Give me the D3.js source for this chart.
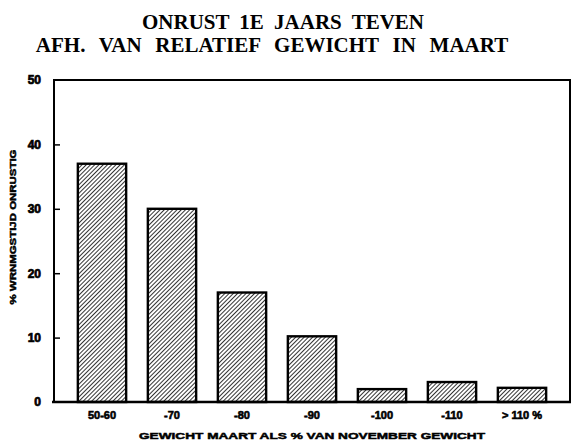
<!DOCTYPE html>
<html><head><meta charset="utf-8">
<script src="https://cdn.jsdelivr.net/npm/d3@7"></script>
<style>body{margin:0;background:#fff}svg{display:block}</style>
</head><body>
<script>
const categories = ["50-60", "-70", "-80", "-90", "-100", "-110", "> 110 %"];
const values = [37, 30, 17, 10.2, 2.0, 3.1, 2.2];
const yTicks = [0, 10, 20, 30, 40, 50];
const titleLines = ["ONRUST 1E JAARS TEVEN", "AFH. VAN RELATIEF GEWICHT IN MAART"];
const xTitle = "GEWICHT MAART ALS % VAN NOVEMBER GEWICHT";
const yTitle = "% WRNMGSTIJD ONRUSTIG";

(function () {
const W = 583, H = 441;
const svg = d3.select("body").append("svg").attr("width", W).attr("height", H);
const defs = svg.append("defs");
const pat = defs.append("pattern").attr("id", "hatch").attr("patternUnits", "userSpaceOnUse")
  .attr("width", 3).attr("height", 3).attr("patternTransform", "rotate(45)");
pat.append("rect").attr("width", 3).attr("height", 3).attr("fill", "#fff");
pat.append("line").attr("x1", 0).attr("y1", 0).attr("x2", 0).attr("y2", 3)
  .attr("stroke", "#000").attr("stroke-width", 1.6);

const mL = 54, mR = 570, mT = 80, mB = 402;
const x = d3.scaleBand().domain(categories).range([67, 557]).paddingInner(0.31).paddingOuter(0.155);
const y = d3.scaleLinear().domain([0, 50]).range([mB, mT]);
const sans = "Liberation Sans, Arial, sans-serif";

// bars
svg.append("g").selectAll("rect").data(values).join("rect")
  .attr("x", (d, i) => x(categories[i]))
  .attr("y", d => y(d))
  .attr("width", x.bandwidth())
  .attr("height", d => mB - y(d))
  .attr("fill", "url(#hatch)")
  .attr("stroke", "#000").attr("stroke-width", 2.4);

// frame
svg.append("path").attr("d", `M${mL},${mB}V${mT}H${mR}V${mB}`)
  .attr("fill", "none").attr("stroke", "#000").attr("stroke-width", 2);
svg.append("line").attr("x1", mL - 2).attr("x2", mR + 1).attr("y1", mB).attr("y2", mB)
  .attr("stroke", "#000").attr("stroke-width", 2.5);

// y axis
const yAxis = d3.axisLeft(y).tickValues(yTicks).tickSize(-6).tickPadding(13).tickFormat(d3.format("d"));
const gy = svg.append("g").attr("transform", `translate(${mL},0)`).call(yAxis);
gy.select(".domain").remove();
gy.selectAll(".tick line").attr("stroke", "#000").attr("stroke-width", 1.5)
  .attr("opacity", d => (d === 0 || d === 50) ? 0 : 1);
gy.selectAll("text").attr("font-family", sans)
  .attr("font-weight", "bold").attr("font-size", 12).attr("fill", "#000")
  .attr("stroke", "#000").attr("stroke-width", 0.7);

// x axis
const xAxis = d3.axisBottom(x).tickSize(0).tickPadding(9);
const gx = svg.append("g").attr("transform", `translate(0,${mB})`).call(xAxis);
gx.select(".domain").remove();
gx.selectAll("text").attr("font-family", sans)
  .attr("font-weight", "bold").attr("font-size", 11).attr("fill", "#000")
  .attr("stroke", "#000").attr("stroke-width", 0.6);

// titles
const wSp = [5, 8.5];
svg.append("g").selectAll("text").data(titleLines).join("text")
  .attr("x", (d, i) => i === 0 ? 283 : 272).attr("y", (d, i) => 29 + i * 23)
  .attr("text-anchor", "middle")
  .attr("font-family", "Liberation Serif, Times New Roman, serif")
  .attr("font-weight", "bold").attr("font-size", 21)
  .attr("word-spacing", (d, i) => wSp[i])
  .text(d => d);

svg.append("text").attr("x", 312).attr("y", 439).attr("text-anchor", "middle")
  .attr("font-family", sans).attr("font-weight", "bold")
  .attr("stroke", "#000").attr("stroke-width", 0.5)
  .attr("font-size", 9.8).attr("textLength", 346).attr("lengthAdjust", "spacingAndGlyphs")
  .text(xTitle);

svg.append("text").attr("transform", "translate(16,227) rotate(-90)").attr("text-anchor", "middle")
  .attr("font-family", sans).attr("font-weight", "bold")
  .attr("stroke", "#000").attr("stroke-width", 0.5)
  .attr("font-size", 9.8).attr("textLength", 155).attr("lengthAdjust", "spacingAndGlyphs")
  .text(yTitle);
})();
</script>
</body></html>
